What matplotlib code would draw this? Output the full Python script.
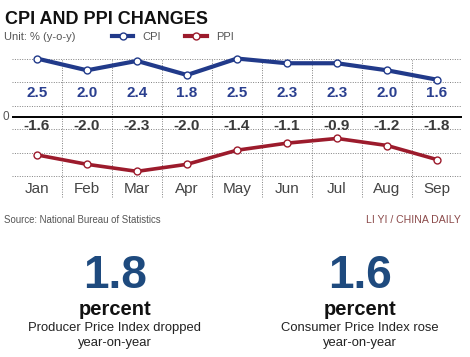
import numpy as np
import matplotlib
matplotlib.use('Agg')
import matplotlib.pyplot as plt
from matplotlib.lines import Line2D

months = ['Jan', 'Feb', 'Mar', 'Apr', 'May', 'Jun', 'Jul', 'Aug', 'Sep']
cpi = [2.5, 2.0, 2.4, 1.8, 2.5, 2.3, 2.3, 2.0, 1.6]
ppi = [-1.6, -2.0, -2.3, -2.0, -1.4, -1.1, -0.9, -1.2, -1.8]
cpi_labels = ['2.5', '2.0', '2.4', '1.8', '2.5', '2.3', '2.3', '2.0', '1.6']
ppi_labels = ['-1.6', '-2.0', '-2.3', '-2.0', '-1.4', '-1.1', '-0.9', '-1.2', '-1.8']

CPI_C = '#213a8a'
PPI_C = '#9c1b2c'
NAVY = '#1e4a7e'
sans = ['Liberation Sans', 'DejaVu Sans']

W, H = 470, 357
fig = plt.figure(figsize=(W / 100, H / 100), dpi=100)

def fx(px):
    return px / W

def fy(py):
    return 1 - py / H

# chart area: zero at 117.3px, 23.5 px per unit
ymin, ymax = -3.5, 3.1
top = 117.3 - ymax * 23.5
bot = 117.3 - ymin * 23.5
ax = fig.add_axes([fx(12), fy(bot), fx(450), (bot - top) / H])
ax.set_xlim(-0.5, 8.5)
ax.set_ylim(ymin, ymax)
ax.axis('off')

x = np.arange(len(months))

# dotted grid
for g in [2.5, 1.5, 0.5, -0.5, -1.5, -2.5]:
    ax.plot([-0.5, 8.5], [g, g], ls=(0, (1, 1.5)), color='#808080', lw=0.7, zorder=1)
for b in np.arange(0.5, 8, 1):
    ax.plot([b, b], [-3.4, 2.5], ls=(0, (1, 1.5)), color='#808080', lw=0.7, zorder=1)
ax.plot([-0.5, 8.5], [0, 0], color='black', lw=1.4, zorder=2)
ax.text(-0.63, 0.02, '0', ha='center', va='center', fontsize=8.5,
        color='#555555', family=sans, clip_on=False)

ax.plot(x, cpi, color=CPI_C, lw=3.0, marker='o', ms=5, mfc='white',
        mec=CPI_C, mew=1.0, zorder=3, solid_capstyle='round')
ax.plot(x, ppi, color=PPI_C, lw=2.6, marker='o', ms=5, mfc='white',
        mec=PPI_C, mew=1.0, zorder=3, solid_capstyle='round')

for i in x:
    ax.text(i, 1.03, cpi_labels[i], ha='center', va='center', fontsize=11,
            fontweight='bold', color='#2a3f8f', family=sans)
    ax.text(i, -0.38, ppi_labels[i], ha='center', va='center', fontsize=11,
            fontweight='bold', color='#3a3a3a', family=sans)
    ax.text(i, -3.05, months[i], ha='center', va='center', fontsize=11,
            color='#444444', family=sans)

# header
fig.text(fx(5), fy(19), 'CPI AND PPI CHANGES', ha='left', va='center',
         fontsize=13, fontweight='bold', color='#111111', family=sans)
fig.text(fx(4), fy(36.5), 'Unit: % (y-o-y)', ha='left', va='center',
         fontsize=8, color='#555555', family=sans)
for x0, x1, c, lab in [(112, 133, CPI_C, 'CPI'), (185, 207, PPI_C, 'PPI')]:
    fig.add_artist(Line2D([fx(x0), fx(x1)], [fy(36), fy(36)], color=c, lw=3,
                          transform=fig.transFigure))
    fig.add_artist(Line2D([fx((x0 + x1) / 2)], [fy(36)], marker='o', ms=5,
                          mfc='white', mec=c, mew=1.0, transform=fig.transFigure))
    fig.text(fx(x1 + 9), fy(36.5), lab, ha='left', va='center', fontsize=8,
             color='#555555', family=sans)

# footer
fig.text(fx(4), fy(220), 'Source: National Bureau of Statistics', ha='left',
         va='center', fontsize=6.9, color='#555555', family=sans)
fig.text(fx(461), fy(220), 'LI YI / CHINA DAILY', ha='right', va='center',
         fontsize=7.6, color='#8b4a4a', family=sans)

# big numbers
for cx, num, l1 in [(115, '1.8', 'Producer Price Index dropped'),
                    (360, '1.6', 'Consumer Price Index rose')]:
    fig.text(fx(cx), fy(288), num, ha='center', va='baseline', fontsize=33,
             fontweight='bold', color=NAVY, family=sans)
    fig.text(fx(cx), fy(315), 'percent', ha='center', va='baseline', fontsize=14.5,
             fontweight='bold', color='#111111', family=sans)
    fig.text(fx(cx), fy(328), l1, ha='center', va='center', fontsize=9.4,
             color='#222222', family=sans)
    fig.text(fx(cx), fy(343), 'year-on-year', ha='center', va='center',
             fontsize=9.4, color='#222222', family=sans)

fig.savefig('out.png', dpi=100, facecolor='white')
